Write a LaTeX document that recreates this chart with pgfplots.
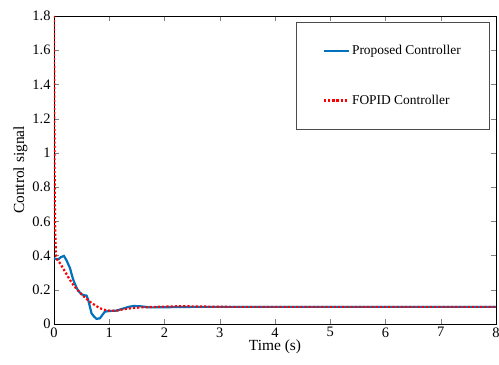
\documentclass[border=0pt]{standalone}
\usepackage{pgfplots}
\pgfplotsset{compat=1.18}
\usepackage{fontspec}
\setmainfont{Liberation Serif}
\definecolor{mblue}{RGB}{0,114,189}
\begin{document}
\begin{tikzpicture}[x=1bp,y=1bp]
\useasboundingbox (-54bp,-41bp) rectangle (445bp,324bp);
\begin{axis}[
  scale only axis, width=442bp, height=308bp,
  xmin=0, xmax=8, ymin=0, ymax=1.8,
  xtick={0,1,2,3,4,5,6,7,8},
  ytick={0,0.2,0.4,0.6,0.8,1,1.2,1.4,1.6,1.8},
  yticklabel style={/pgf/number format/fixed, /pgf/number format/precision=1},
  /pgf/number format/assume math mode=true,
  tick align=inside, tick pos=both, major tick length=5bp,
  tick label style={font=\fontsize{14.5}{16}\selectfont},
  label style={font=\fontsize{15.5}{18}\selectfont},
  xlabel={Time (s)}, ylabel={Control signal},
  xlabel style={yshift=4bp},
  ylabel style={yshift=-2bp},
  axis line style={black, line width=0.6pt},
  legend style={at={(rel axis cs:0.9865,0.9805)}, anchor=north east, draw=black!70, line width=0.6pt,
    font=\fontsize{13.5}{15}\selectfont, inner xsep=27bp, inner ysep=21bp, row sep=35bp,
    legend cell align=left},
  legend image code/.code={\draw[#1] (0bp,0bp) -- (25bp,0bp);},
]
\addplot[mblue, line width=2.2pt] coordinates {
(0,0.384) (0.04,0.38) (0.08,0.378) (0.12,0.39) (0.18,0.398) (0.23,0.37) (0.29,0.326) (0.32,0.29) (0.35,0.257)
(0.41,0.21) (0.45,0.19) (0.5,0.173) (0.55,0.168) (0.59,0.166) (0.62,0.14) (0.65,0.1) (0.68,0.062)
(0.72,0.045) (0.77,0.03) (0.83,0.033) (0.88,0.055) (0.92,0.072) (1.0,0.076) (1.13,0.078)
(1.25,0.09) (1.35,0.1) (1.44,0.105) (1.55,0.104) (1.74,0.097) (2.0,0.098) (2.5,0.1) (3,0.1) (8,0.1)};
\addlegendentry{Proposed Controller}
\addplot[red, line width=2.2pt, dotted] coordinates {
(0,1.8) (0.005,1.3) (0.01,0.95) (0.015,0.72) (0.02,0.58) (0.03,0.46) (0.036,0.40) (0.06,0.375) (0.11,0.355)
(0.2,0.306) (0.28,0.262) (0.35,0.228) (0.47,0.183) (0.56,0.155) (0.65,0.13) (0.75,0.108) (0.83,0.092)
(0.93,0.082) (1.04,0.076) (1.15,0.079) (1.25,0.086) (1.4,0.092) (1.56,0.097) (1.75,0.099) (1.92,0.101)
(2.3,0.104) (2.7,0.102) (3.2,0.1) (8,0.1)};
\addlegendentry{FOPID Controller}
\end{axis}
\end{tikzpicture}
\end{document}
